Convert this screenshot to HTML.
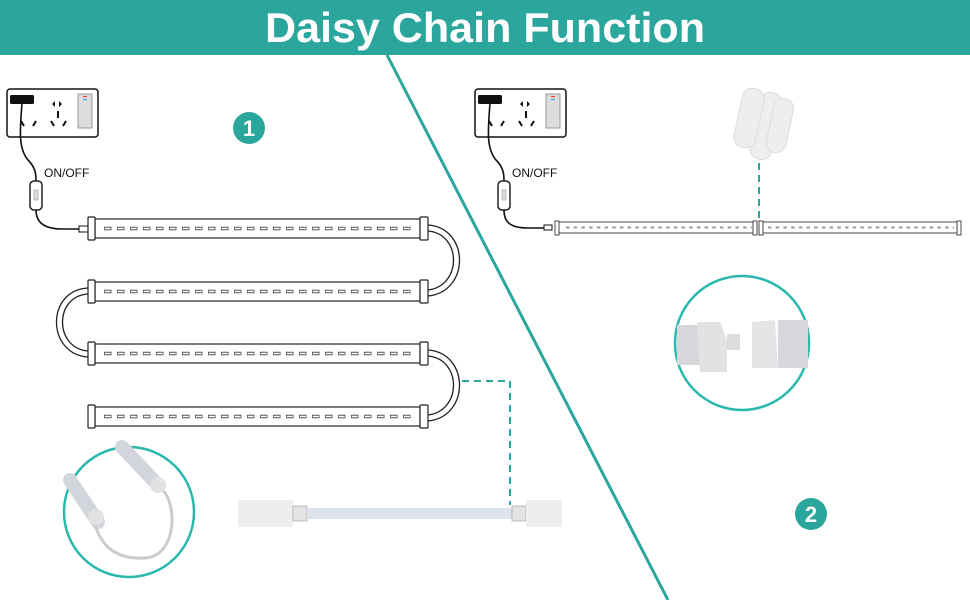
<!DOCTYPE html>
<html><head><meta charset="utf-8"><style>
html,body{margin:0;padding:0;background:#fff;}
svg{display:block;}
</style></head><body>
<svg width="970" height="600" viewBox="0 0 970 600" xmlns="http://www.w3.org/2000/svg">
<defs>
  <g id="outlet">
    <rect x="0" y="0" width="91" height="48" rx="3" fill="#fff" stroke="#111" stroke-width="1.5"/>
    <rect x="3" y="6" width="24" height="9" rx="1.5" fill="#111"/>
    <path d="M45 15 l3 -3 v6z M52 12 l3 3 l-3 3z" fill="#111"/>
    <line x1="51" y1="22" x2="51" y2="29" stroke="#111" stroke-width="2"/>
    <line x1="14" y1="32" x2="17" y2="37" stroke="#111" stroke-width="2"/>
    <line x1="29" y1="32" x2="26" y2="37" stroke="#111" stroke-width="2"/>
    <line x1="44" y1="32" x2="47" y2="37" stroke="#111" stroke-width="2"/>
    <line x1="59" y1="32" x2="56" y2="37" stroke="#111" stroke-width="2"/>
    <rect x="71" y="5" width="14" height="34" fill="#ddd" stroke="#999" stroke-width="1"/>
    <rect x="76" y="7" width="4" height="1.2" fill="#e44"/>
    <rect x="76" y="10" width="4" height="1.2" fill="#4ae"/>
  </g>
  <g id="switch">
    <rect x="0" y="0" width="12" height="29" rx="4" fill="#fff" stroke="#222" stroke-width="1.5"/>
    <rect x="4" y="9" width="4" height="10" fill="#ddd" stroke="#999" stroke-width="0.6"/>
  </g>
</defs>

<rect x="0" y="0" width="970" height="55" fill="#2ba69d"/>
<text x="485" y="42" text-anchor="middle" font-family="Liberation Sans, sans-serif" font-weight="bold" font-size="42" fill="#fff" textLength="440" lengthAdjust="spacingAndGlyphs">Daisy Chain Function</text>

<line x1="387" y1="55" x2="668" y2="600" stroke="#2ba69d" stroke-width="3"/>

<!-- LEFT PANEL -->
<use href="#outlet" x="7" y="89"/>
<path d="M22 103 C20 130 18 148 28 160 C36 168 36 175 36 181" fill="none" stroke="#111" stroke-width="1.6"/>
<use href="#switch" x="30" y="181"/>
<path d="M36 210 C36 222 44 229 62 229 L80 229" fill="none" stroke="#111" stroke-width="1.6"/>
<rect x="79" y="226" width="9" height="6" fill="#fff" stroke="#111" stroke-width="1"/>
<text x="44" y="177" font-family="Liberation Sans, sans-serif" font-size="12" fill="#111">ON/OFF</text>

<circle cx="249" cy="128" r="16" fill="#2ba69d"/>
<text x="249" y="136" text-anchor="middle" font-family="Liberation Sans, sans-serif" font-weight="bold" font-size="22" fill="#fff">1</text>

<g stroke="#222" stroke-width="1.2" fill="#fff">
  <rect x="95" y="219" width="325" height="19"/>
  <rect x="88" y="217" width="7" height="23" rx="1"/>
  <rect x="420" y="217" width="8" height="23" rx="1"/>
  <rect x="95" y="282" width="325" height="19"/>
  <rect x="88" y="280" width="7" height="23" rx="1"/>
  <rect x="420" y="280" width="8" height="23" rx="1"/>
  <rect x="95" y="344" width="325" height="19"/>
  <rect x="88" y="342" width="7" height="23" rx="1"/>
  <rect x="420" y="342" width="8" height="23" rx="1"/>
  <rect x="95" y="407" width="325" height="19"/>
  <rect x="88" y="405" width="7" height="23" rx="1"/>
  <rect x="420" y="405" width="8" height="23" rx="1"/>
</g>
<g fill="none">
  <g stroke="#555" stroke-width="3.4" stroke-dasharray="7.5,5.5">
    <line x1="104" y1="228.5" x2="416" y2="228.5"/>
    <line x1="104" y1="291.5" x2="416" y2="291.5"/>
    <line x1="104" y1="353.5" x2="416" y2="353.5"/>
    <line x1="104" y1="416.5" x2="416" y2="416.5"/>
  </g>
  <g stroke="#fff" stroke-width="1.6" stroke-dasharray="5.9,7.1" stroke-dashoffset="-0.8">
    <line x1="104" y1="228.5" x2="416" y2="228.5"/>
    <line x1="104" y1="291.5" x2="416" y2="291.5"/>
    <line x1="104" y1="353.5" x2="416" y2="353.5"/>
    <line x1="104" y1="416.5" x2="416" y2="416.5"/>
  </g>
</g>

<g fill="none" stroke="#222" stroke-width="1.3">
  <path d="M428 225 C470 228 470 292 428 296"/>
  <path d="M428 231 C462 234 462 286 428 290"/>
  <path d="M88 288 C46 290 46 354 88 357"/>
  <path d="M88 294 C54 296 54 348 88 351"/>
  <path d="M428 350 C470 353 470 417 428 421"/>
  <path d="M428 356 C462 359 462 411 428 415"/>
</g>
<path d="M462 381 H510 V505" fill="none" stroke="#2ba69d" stroke-width="2" stroke-dasharray="7,5"/>

<circle cx="129" cy="512" r="65" fill="#fff" stroke="#29b8ae" stroke-width="2.5"/>
<path d="M122 447 L158 485" stroke="#d2d6dc" stroke-width="14" stroke-linecap="round"/>
<path d="M70 480 L98 522" stroke="#d2d6dc" stroke-width="14" stroke-linecap="round"/>
<path d="M160 488 C178 500 178 556 145 558 C110 560 100 540 95 525" fill="none" stroke="#ccc" stroke-width="3"/>
<circle cx="158" cy="485" r="8" fill="#e2e2e2"/>
<circle cx="96" cy="517" r="8" fill="#e2e2e2"/>

<!-- cable -->
<rect x="238" y="500" width="55" height="27" fill="#eee"/>
<rect x="293" y="506" width="14" height="15" fill="#e4e4e4" stroke="#999" stroke-width="0.6"/>
<rect x="307" y="508" width="205" height="11" fill="#dde3ea"/>
<rect x="512" y="506" width="14" height="15" fill="#e4e4e4" stroke="#999" stroke-width="0.6"/>
<rect x="526" y="500" width="36" height="27" fill="#eee"/>

<!-- RIGHT PANEL -->
<use href="#outlet" x="475" y="89"/>
<path d="M490 103 C488 130 486 148 496 160 C504 168 504 175 504 181" fill="none" stroke="#111" stroke-width="1.6"/>
<use href="#switch" x="498" y="181"/>
<path d="M504 210 C504 222 510 228 528 228 L544 228" fill="none" stroke="#111" stroke-width="1.6"/>
<rect x="544" y="225" width="8" height="5" fill="#fff" stroke="#111" stroke-width="1"/>
<text x="512" y="177" font-family="Liberation Sans, sans-serif" font-size="12" fill="#111">ON/OFF</text>

<g stroke="#333" stroke-width="0.9" fill="#fff">
  <rect x="558" y="222" width="198" height="11"/>
  <rect x="555" y="221" width="4" height="14"/>
  <rect x="753" y="221" width="4" height="14"/>
  <rect x="760" y="222" width="198" height="11"/>
  <rect x="759" y="221" width="4" height="14"/>
  <rect x="957" y="221" width="4" height="14"/>
</g>
<g stroke="#999" stroke-width="2" stroke-dasharray="3.5,4.2" fill="none">
  <line x1="566" y1="227.5" x2="752" y2="227.5"/>
  <line x1="768" y1="227.5" x2="954" y2="227.5"/>
</g>
<line x1="759" y1="163" x2="759" y2="218" stroke="#2ba69d" stroke-width="2" stroke-dasharray="7,5"/>

<g fill="#eee" stroke="#ddd" stroke-width="1">
  <rect x="755" y="92" width="22" height="68" rx="10" transform="rotate(12 766 126)"/>
  <rect x="738" y="88" width="22" height="60" rx="10" transform="rotate(12 749 118)"/>
  <rect x="770" y="98" width="20" height="55" rx="10" transform="rotate(12 780 125)"/>
</g>

<circle cx="742" cy="343" r="67" fill="#fff" stroke="#29b8ae" stroke-width="2.5"/>
<rect x="677" y="325" width="30" height="40" fill="#d6d8dc"/>
<path d="M697 322 L720 322 L727 340 L727 372 L700 372 Z" fill="#e2e2e2"/>
<rect x="727" y="334" width="13" height="16" fill="#ddd"/>
<path d="M752 322 L775 320 L778 368 L752 368 Z" fill="#e4e4e4"/>
<rect x="778" y="320" width="30" height="48" fill="#d6d8dc"/>

<circle cx="811" cy="514" r="16" fill="#2ba69d"/>
<text x="811" y="522" text-anchor="middle" font-family="Liberation Sans, sans-serif" font-weight="bold" font-size="22" fill="#fff">2</text>
</svg>
</body></html>
